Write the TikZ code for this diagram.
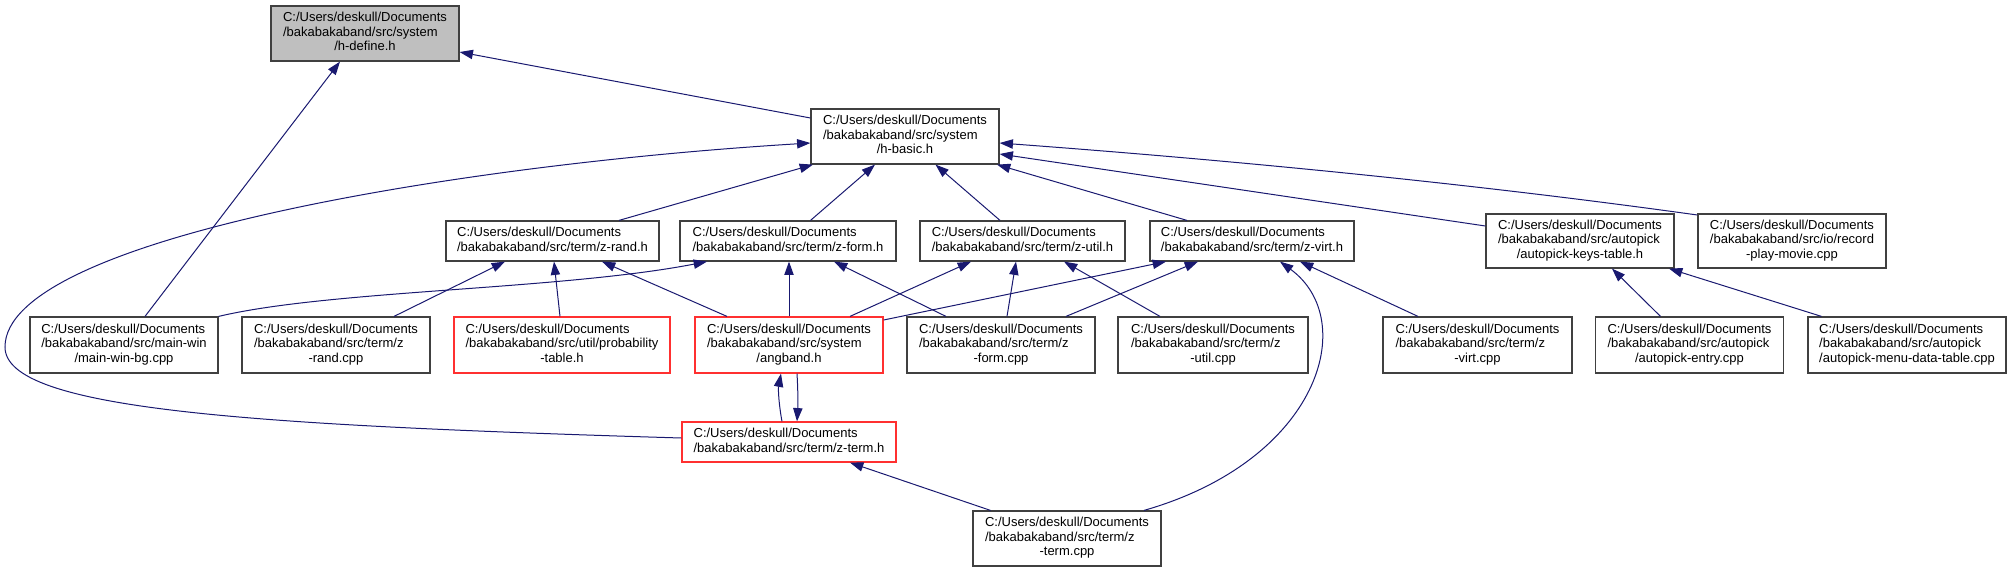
\documentclass[tikz,border=0pt]{standalone}
\usepackage{fontspec}
\setmainfont{Liberation Sans}
\usetikzlibrary{arrows.meta,calc}
\definecolor{edgec}{HTML}{191970}
\definecolor{boxgray}{HTML}{BFBFBF}
\definecolor{bord}{HTML}{404040}
\definecolor{redb}{HTML}{FF3030}
\newcommand{\nthree}[3]{\begin{tabular}{@{}l@{}}#1\\#2\\\multicolumn{1}{@{}c@{}}{#3}\end{tabular}}
\newcommand{\ntwo}[2]{\begin{tabular}{@{}l@{}}#1\\\multicolumn{1}{@{}c@{}}{#2}\end{tabular}}
\newcommand{\cu}{C:/Users/deskull/Documents}
\begin{document}
\begin{tikzpicture}[x=0.75pt,y=-0.75pt,
  box/.style 2 args={draw=bord, line width=0.9pt, fill=white, minimum width=#1*0.75pt,
    minimum height=#2*0.75pt, inner sep=0pt, font=\fontsize{9.75pt}{10.9pt}\selectfont},
  redbox/.style={draw=redb},
  edge/.style={draw=edgec, line width=0.75pt, -{Triangle[length=10pt,width=7pt]}}]
\useasboundingbox (0,0) rectangle (2011,572);
% nodes
\node[box={188}{55}, fill=boxgray] (hdefine) at (365,33.5) {\nthree{\cu}{/bakabakaband/src/system}{/h-define.h}};
\node[box={188}{55}] (hbasic) at (905,136.5) {\nthree{\cu}{/bakabakaband/src/system}{/h-basic.h}};
\node[box={213}{40}] (zrand) at (552.5,241) {\ntwo{\cu}{/bakabakaband/src/term/z-rand.h}};
\node[box={216}{40}] (zform) at (788,241) {\ntwo{\cu}{/bakabakaband/src/term/z-form.h}};
\node[box={205}{40}] (zutil) at (1022.5,241) {\ntwo{\cu}{/bakabakaband/src/term/z-util.h}};
\node[box={204}{40}] (zvirt) at (1252,241) {\ntwo{\cu}{/bakabakaband/src/term/z-virt.h}};
\node[box={188}{54}] (apkeys) at (1580,241) {\nthree{\cu}{/bakabakaband/src/autopick}{/autopick-keys-table.h}};
\node[box={188}{54}] (record) at (1792,241) {\nthree{\cu}{/bakabakaband/src/io/record}{-play-movie.cpp}};
\node[box={188}{56}] (mainwin) at (124,345) {\nthree{\cu}{/bakabakaband/src/main-win}{/main-win-bg.cpp}};
\node[box={188}{56}] (zrandcpp) at (336,345) {\nthree{\cu}{/bakabakaband/src/term/z}{-rand.cpp}};
\node[box={216}{56}, redbox] (prob) at (562,345) {\nthree{\cu}{/bakabakaband/src/util/probability}{-table.h}};
\node[box={188}{56}, redbox] (angband) at (789,345) {\nthree{\cu}{/bakabakaband/src/system}{/angband.h}};
\node[box={188}{56}] (zformcpp) at (1001,345) {\nthree{\cu}{/bakabakaband/src/term/z}{-form.cpp}};
\node[box={190}{56}] (zutilcpp) at (1213,345) {\nthree{\cu}{/bakabakaband/src/term/z}{-util.cpp}};
\node[box={189}{56}] (zvirtcpp) at (1477.5,345) {\nthree{\cu}{/bakabakaband/src/term/z}{-virt.cpp}};
\node[box={188}{56}] (apentry) at (1689.5,345) {\nthree{\cu}{/bakabakaband/src/autopick}{/autopick-entry.cpp}};
\node[box={198}{56}] (apmenu) at (1907,345) {\nthree{\cu}{/bakabakaband/src/autopick}{/autopick-menu-data-table.cpp}};
\node[box={214}{40}, redbox] (ztermh) at (789,442) {\ntwo{\cu}{/bakabakaband/src/term/z-term.h}};
\node[box={188}{55}] (ztermcpp) at (1067,538.5) {\nthree{\cu}{/bakabakaband/src/term/z}{-term.cpp}};
% edges
\draw[edge] ($(hbasic.west)+(0,-18.5)$) -- ($(hdefine.east)+(0,18.5)$);
\draw[edge] ($(mainwin.north)+(21,0)$) -- ($(hdefine.south)+(-25,0)$);
\draw[edge] ($(zrand.north)+(66.5,0)$) -- ($(hbasic.south)+(-92,0)$);
\draw[edge] ($(zform.north)+(22.5,0)$) -- ($(hbasic.south)+(-30,0)$);
\draw[edge] ($(zutil.north)+(-22.5,0)$) -- ($(hbasic.south)+(30.5,0)$);
\draw[edge] ($(zvirt.north)+(-65,0)$) -- ($(hbasic.south)+(92,0)$);
\draw[edge] ($(apkeys.west)+(0,-15)$) -- ($(hbasic.east)+(0,17.5)$);
\draw[edge] ($(record.west)+(0,-26)$) .. controls (1468,183) and (1229,160) .. ($(hbasic.east)+(0,6.5)$);
\draw[edge] ($(ztermh.west)+(0,-4)$) .. controls (250,425) and (5,410) .. (5,347)
  .. controls (5,240) and (450,165) .. ($(hbasic.west)+(0,6.5)$);
\draw[edge] ($(zrandcpp.north)+(58,0)$) -- ($(zrand.south)+(-47.5,0)$);
\draw[edge] ($(prob.north)+(-2,0)$) -- ($(zrand.south)+(1.5,0)$);
\draw[edge] ($(angband.north)+(-62,0)$) -- ($(zrand.south)+(49.5,0)$);
\draw[edge] (mainwin.north east) .. controls (330,290) and (560,290) .. ($(zform.south)+(-81,0)$);
\draw[edge] (angband.north) -- ($(zform.south)+(1,0)$);
\draw[edge] ($(zformcpp.north)+(-55,0)$) -- ($(zform.south)+(46,0)$);
\draw[edge] ($(angband.north)+(61,0)$) -- ($(zutil.south)+(-51.5,0)$);
\draw[edge] ($(zformcpp.north)+(6,0)$) -- ($(zutil.south)+(-6.5,0)$);
\draw[edge] ($(zutilcpp.north)+(-53,0)$) -- ($(zutil.south)+(41.5,0)$);
\draw[edge] ($(angband.east)+(0,-25)$) -- ($(zvirt.south)+(-86,0)$);
\draw[edge] ($(zformcpp.north)+(65,0)$) -- ($(zvirt.south)+(-54,0)$);
\draw[edge] ($(zvirtcpp.north)+(-59.5,0)$) -- ($(zvirt.south)+(48,0)$);
\draw[edge] ($(ztermcpp.north)+(77,0)$) .. controls (1320,460) and (1360,320) .. ($(zvirt.south)+(28,0)$);
\draw[edge] ($(apentry.north)+(-29,0)$) -- ($(apkeys.south)+(32,0)$);
\draw[edge] ($(apmenu.north)+(-85.5,0)$) -- ($(apkeys.south)+(89,0)$);
\draw[edge] ($(ztermh.north)+(-7,0)$) .. controls +(-3,-16) and +(-3,16) .. ($(angband.south)+(-8,0)$);
\draw[edge] ($(angband.south)+(8,0)$) .. controls +(1,16) and +(1,-16) .. ($(ztermh.north)+(8,0)$);
\draw[edge] ($(ztermcpp.north)+(-76.5,0)$) -- ($(ztermh.south)+(61,0)$);
\end{tikzpicture}
\end{document}
